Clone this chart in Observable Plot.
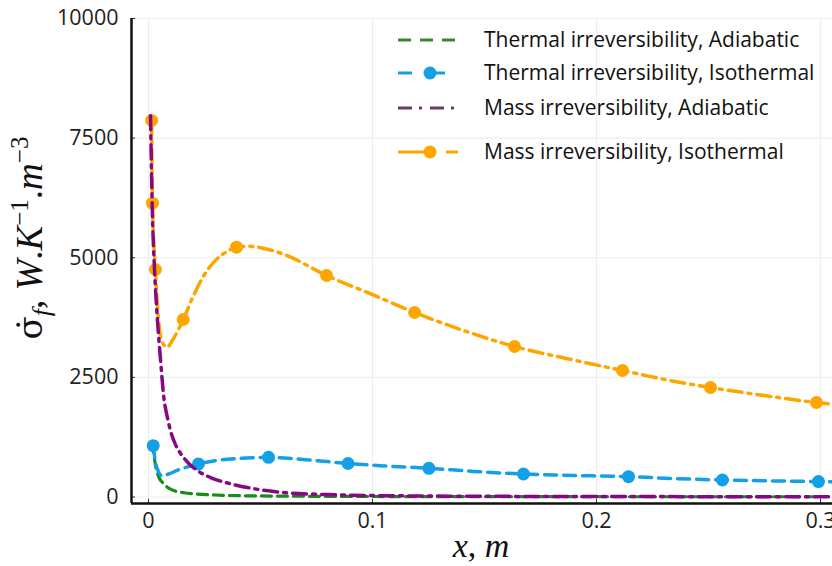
<!DOCTYPE html>
<html><head><meta charset="utf-8">
<script src="https://cdn.jsdelivr.net/npm/d3@7"></script>
<script src="https://cdn.jsdelivr.net/npm/@observablehq/plot@0.6"></script>
<style>
body{margin:0;background:#fff;}
#chart{width:832px;height:566px;overflow:hidden;}
</style></head><body><div id="chart"></div>
<script>
// ---- data ----
const seriesNames = [
  "Thermal irreversibility, Adiabatic",
  "Thermal irreversibility, Isothermal",
  "Mass irreversibility, Adiabatic",
  "Mass irreversibility, Isothermal"
];
const xThermalAdiabatic = [0.0017, 0.0025, 0.0033, 0.0046, 0.0065, 0.0084, 0.011, 0.0158, 0.022, 0.03, 0.0366, 0.05, 0.07, 0.1, 0.15, 0.2, 0.25, 0.3];
const yThermalAdiabatic = [1140, 850, 620, 414, 290, 205, 140, 88, 60, 42, 31, 22, 15, 10, 8, 6, 5, 5];

const xThermalIsoLine = [0.0021, 0.003, 0.0045, 0.0061, 0.009, 0.013, 0.0175, 0.0223, 0.03, 0.04, 0.0536, 0.07, 0.0891, 0.105, 0.1252, 0.145, 0.1674, 0.19, 0.2143, 0.235, 0.2562, 0.28, 0.2991, 0.306];
const yThermalIsoLine = [1073, 760, 520, 440, 480, 560, 630, 692, 760, 805, 829, 780, 700, 650, 600, 535, 480, 450, 425, 385, 355, 335, 323, 320];
const xThermalIsoMarks = [0.0021, 0.0223, 0.0536, 0.0891, 0.1252, 0.1674, 0.2143, 0.2562, 0.2991];
const yThermalIsoMarks = [1073, 692, 829, 700, 600, 480, 425, 355, 323];

const xMassAdiabatic = [0.0009, 0.0013, 0.0017, 0.0027, 0.004, 0.0054, 0.0068, 0.0085, 0.0098, 0.012, 0.0143, 0.018, 0.0217, 0.028, 0.0366, 0.045, 0.059, 0.08, 0.1, 0.15, 0.2, 0.25, 0.306];
const yMassAdiabatic = [7970, 6900, 6000, 4750, 3700, 2850, 2100, 1650, 1390, 1100, 910, 700, 555, 400, 276, 190, 100, 50, 30, 15, 10, 7, 5];

const xMassIsoLine = [0.0014, 0.0018, 0.0031, 0.0045, 0.006, 0.0083, 0.011, 0.0155, 0.02, 0.025, 0.03, 0.035, 0.0393, 0.045, 0.05, 0.06, 0.0795, 0.1, 0.1188, 0.14, 0.1634, 0.19, 0.2116, 0.23, 0.2509, 0.275, 0.2982, 0.306];
const yMassIsoLine = [7870, 6140, 4754, 3700, 3250, 3130, 3300, 3710, 4200, 4650, 4950, 5130, 5220, 5240, 5210, 5080, 4629, 4230, 3856, 3490, 3145, 2860, 2644, 2460, 2288, 2120, 1975, 1940];
const xMassIsoMarks = [0.0014, 0.0018, 0.0031, 0.0155, 0.0393, 0.0795, 0.1188, 0.1634, 0.2116, 0.2509, 0.2982];
const yMassIsoMarks = [7870, 6140, 4754, 3710, 5220, 4629, 3856, 3145, 2644, 2288, 1975];

const xTicks = [0, 0.1, 0.2, 0.3];
const xTickLabels = ["0", "0.1", "0.2", "0.3"];
const yTicks = [0, 2500, 5000, 7500, 10000];
const yTickLabels = ["0", "2500", "5000", "7500", "10000"];

// ---- styles ----
const colGreen = "#1a8a1a", colBlue = "#14a0e6", colPurple = "#850985", colOrange = "#ffa500";
const xDomain = [-0.00759, 0.30536];
const yDomain = [-136, 10000];

const rows = (xs, ys) => xs.map((x, i) => ({x, y: ys[i]}));

const plot = Plot.plot({
  width: 832, height: 566,
  marginLeft: 131, marginRight: 0, marginTop: 18, marginBottom: 63,
  style: {fontFamily: "'Open Sans', sans-serif", fontSize: "21px", color: "#222", background: "#fff", overflow: "visible"},
  x: {domain: xDomain, label: null},
  y: {domain: yDomain, label: null},
  marks: [
    Plot.gridY(yTicks, {stroke: "#eeeeee", strokeOpacity: 1, strokeWidth: 1.2}),
    Plot.gridX(xTicks, {stroke: "#eeeeee", strokeOpacity: 1, strokeWidth: 1.2}),
    Plot.line(rows(xThermalAdiabatic, yThermalAdiabatic), {x: "x", y: "y", stroke: colGreen, strokeWidth: 3.2, strokeDasharray: "10,6", curve: "monotone-x"}),
    Plot.line(rows(xThermalIsoLine, yThermalIsoLine), {x: "x", y: "y", stroke: colBlue, strokeWidth: 3.5, strokeDasharray: "12,7", curve: "monotone-x"}),
    Plot.dot(rows(xThermalIsoMarks, yThermalIsoMarks), {x: "x", y: "y", r: 6.5, fill: colBlue}),
    Plot.line(rows(xMassIsoLine, yMassIsoLine), {x: "x", y: "y", stroke: colOrange, strokeWidth: 3.5, strokeDasharray: "14,6,3,6", curve: "monotone-x"}),
    Plot.dot(rows(xMassIsoMarks, yMassIsoMarks), {x: "x", y: "y", r: 6.5, fill: colOrange}),
    Plot.line(rows(xMassAdiabatic, yMassAdiabatic), {x: "x", y: "y", stroke: colPurple, strokeWidth: 3.5, strokeDasharray: "14,6,3,6", curve: "monotone-x"}),
    Plot.axisY(yTicks, {tickSize: 0, tickPadding: 13, tickFormat: (d, i) => yTickLabels[i], fontSize: 21.5, fill: "#222"}),
    Plot.axisX(xTicks, {tickSize: 0, tickPadding: 9, tickFormat: (d, i) => xTickLabels[i], fontSize: 21.5, fill: "#222"}),
    Plot.ruleY(yTicks, {x1: xDomain[0], x2: xDomain[0] + 0.0018, stroke: "#333", strokeWidth: 1}),
    Plot.ruleX(xTicks, {y1: yDomain[0], y2: yDomain[0] + 90, stroke: "#333", strokeWidth: 1}),
    Plot.ruleX([xDomain[0]], {stroke: "#111", strokeWidth: 2.5}),
    Plot.ruleY([yDomain[0]], {stroke: "#111", strokeWidth: 2.5})
  ]
});

document.getElementById("chart").appendChild(plot);
const svg = d3.select(plot);

// ---- axis titles ----
const mathFont = "'Liberation Serif', 'DejaVu Serif', serif";
const xl = svg.append("text").attr("x", 481).attr("y", 557).attr("text-anchor", "middle")
  .attr("font-family", mathFont).attr("font-size", 34).attr("fill", "#111");
xl.append("tspan").attr("font-style", "italic").text("x");
xl.append("tspan").text(", ");
xl.append("tspan").attr("font-style", "italic").text("m");

const yl = svg.append("text").attr("transform", "translate(42,238) rotate(-90)").attr("text-anchor", "middle")
  .attr("font-family", mathFont).attr("font-size", 37).attr("fill", "#111");
yl.append("tspan").attr("font-family", "'DejaVu Serif', serif").attr("font-size", 34).text("σ\u0307");
yl.append("tspan").attr("font-style", "italic").attr("font-size", 26).attr("dy", 8).text("f");
yl.append("tspan").attr("dy", -8).text(", ");
yl.append("tspan").attr("font-style", "italic").text("W");
yl.append("tspan").text(".");
yl.append("tspan").attr("font-style", "italic").text("K");
yl.append("tspan").attr("font-size", 25).attr("dy", -14).text("−1");
yl.append("tspan").attr("dy", 14).text(".");
yl.append("tspan").attr("font-style", "italic").text("m");
yl.append("tspan").attr("font-size", 25).attr("dy", -14).text("−3");

// ---- legend ----
const legend = [
  {name: seriesNames[0], y: 40, color: "#3f8436", dash: "13,9", marker: false, width: 3},
  {name: seriesNames[1], y: 73, color: colBlue, dash: "14,19", marker: true, width: 3},
  {name: seriesNames[2], y: 108, color: "#6e3a6e", dash: "14,7,3,8", marker: false, width: 3},
  {name: seriesNames[3], y: 152, color: colOrange, dash: "32,16,14", marker: true, width: 3}
];
const lg = svg.append("g").attr("text-anchor", "start");
legend.forEach(e => {
  lg.append("line").attr("x1", 398).attr("x2", 458).attr("y1", e.y).attr("y2", e.y)
    .attr("stroke", e.color).attr("stroke-width", e.width).attr("stroke-dasharray", e.dash);
  if (e.marker) lg.append("circle").attr("cx", 430).attr("cy", e.y).attr("r", 6.5).attr("fill", e.color);
  lg.append("text").attr("x", 484).attr("y", e.y).attr("dy", "0.35em").attr("text-anchor", "start")
    .attr("font-family", "'Open Sans', sans-serif").attr("font-size", 21).attr("fill", "#111").text(e.name);
});
</script></body></html>
